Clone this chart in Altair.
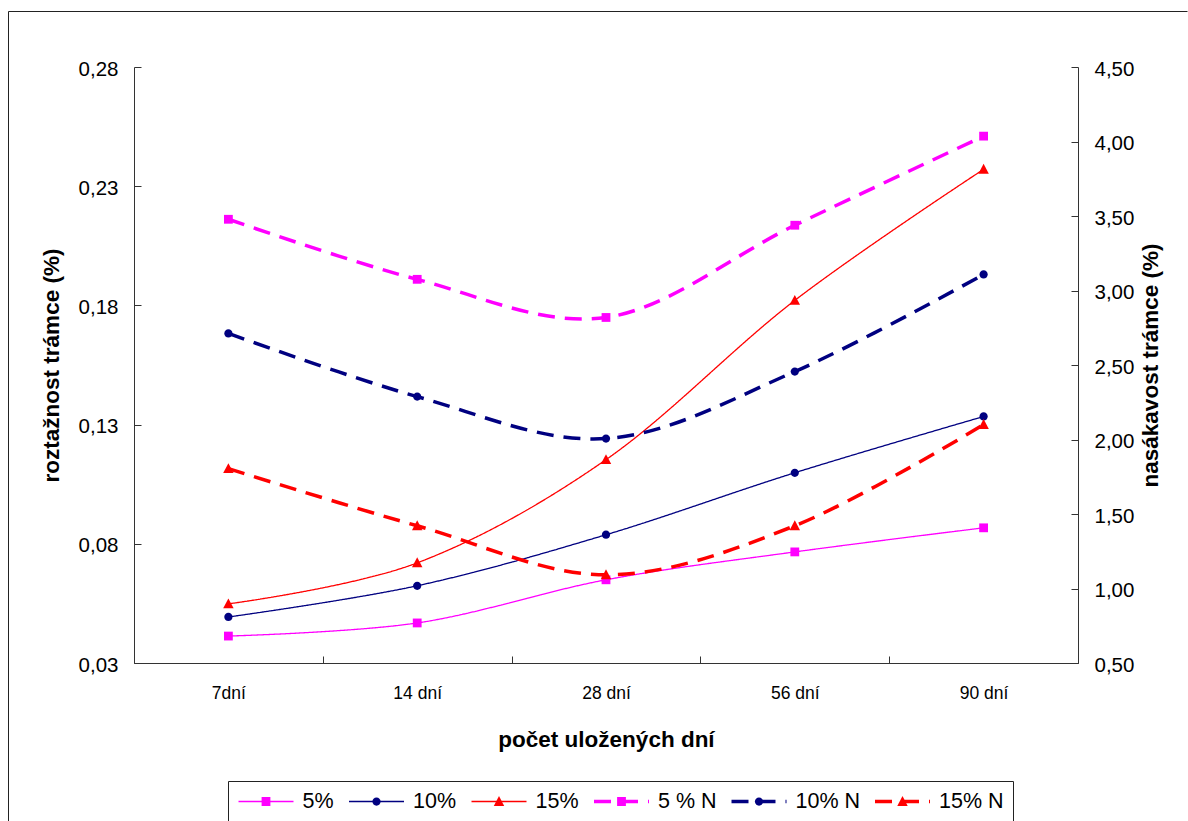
import altair as alt
import pandas as pd

# ---------------- data ----------------
days = ["7dní", "14 dní", "28 dní", "56 dní", "90 dní"]
solid_names = ["5%", "10%", "15%"]
dashed_names = ["5 % N", "10% N", "15% N"]

# left axis: roztažnost trámce (%)
roz_5 = [0.0413, 0.0468, 0.0649, 0.0766, 0.0867]
roz_10 = [0.0493, 0.0624, 0.0838, 0.1098, 0.1334]
roz_15 = [0.0548, 0.0720, 0.1153, 0.1821, 0.2371]

# right axis: nasákavost trámce (%)
nas_5 = [3.478, 3.075, 2.819, 3.438, 4.036]
nas_10 = [2.712, 2.288, 2.006, 2.456, 3.108]
nas_15 = [1.804, 1.421, 1.092, 1.421, 2.100]

left_ticks = [0.03, 0.08, 0.13, 0.18, 0.23, 0.28]
right_ticks = [0.5, 1.0, 1.5, 2.0, 2.5, 3.0, 3.5, 4.0, 4.5]

all_series = solid_names + dashed_names
marker_keys = ["m:" + s for s in all_series]


def frame(names, series_values, field):
    rows = []
    for name, vals in zip(names, series_values):
        for d, v in zip(days, vals):
            rows.append({"den": d, "series": name, "mk": "m:" + name, field: v})
    return pd.DataFrame(rows)


solid_df = frame(solid_names, [roz_5, roz_10, roz_15], "roz")
dashed_df = frame(dashed_names, [nas_5, nas_10, nas_15], "nas")
one = pd.DataFrame({"k": [0]})

# ---------------- styles ----------------
FONT = "Liberation Sans"
COL = ["#FF00FF", "#000080", "#FF0000"] * 2
DASH = [[1, 0]] * 3 + [[17, 10]] * 3
WID = [1.3] * 3 + [3.5] * 3
SQ = "M-0.16,-0.16L0.16,-0.16L0.16,0.16L-0.16,0.16Z"
CI = "M-0.15,0A0.15,0.15,0,1,0,0.15,0A0.15,0.15,0,1,0,-0.15,0Z"
TR = "M0,-0.2L0.19,0.16L-0.19,0.16Z"
SHP = [SQ, CI, TR] * 2
AXC = "#333333"

leg_common = dict(
    orient="none", legendX=94, legendY=714, direction="horizontal", columns=6,
    symbolSize=3025, labelFont=FONT, labelFontSize=21.5, labelOffset=7,
    columnPadding=12.5, padding=8.5, clipHeight=24,
)
legA = alt.Legend(symbolType="stroke", labelColor="black", strokeColor="#222222", **leg_common)
legB = alt.Legend(labelColor="transparent", symbolStrokeColor="transparent",
                  symbolStrokeWidth=3.5, labelExpr="substring(datum.label, 2)", **leg_common)

xenc = alt.X(
    "den:N", sort=days,
    scale=alt.Scale(type="band", paddingInner=0, paddingOuter=0),
    axis=alt.Axis(
        title="počet uložených dní", tickBand="extent", labelAngle=0,
        labelFontSize=17.5, labelPadding=28.5, tickSize={"expr": "-7"},
        titleFontSize=22.5, titleFontWeight="bold", titlePadding=26.5,
    ),
)

left_axis = alt.Axis(
    orient="left", values=left_ticks, title="roztažnost trámce (%)",
    labelExpr="replace(format(datum.value, '.2f'), '.', ',')",
    labelFontSize=20.5, labelPadding=23, tickSize={"expr": "-7"}, labelOffset=2,
    titleFontSize=22.5, titleFontWeight="bold", titlePadding=15, grid=False,
)
right_axis = alt.Axis(
    orient="right", values=right_ticks, title="nasákavost trámce (%)",
    labelExpr="replace(format(datum.value, '.2f'), '.', ',')",
    labelFontSize=20.5, labelPadding=23, tickSize={"expr": "-7"}, labelOffset=2,
    titleFontSize=22.5, titleFontWeight="bold", titlePadding=6,
    titleAngle=270, titleBaseline="top", grid=False,
)

yl = alt.Y("roz:Q", scale=alt.Scale(domain=[0.03, 0.28], nice=False, zero=False), axis=left_axis)
yr = alt.Y("nas:Q", scale=alt.Scale(domain=[0.5, 4.5], nice=False, zero=False), axis=right_axis)

line_enc = dict(
    color=alt.Color("series:N", title=None, scale=alt.Scale(domain=all_series, range=COL), legend=legA),
    strokeDash=alt.StrokeDash("series:N", title=None, scale=alt.Scale(domain=all_series, range=DASH), legend=legA),
    strokeWidth=alt.StrokeWidth("series:N", title=None,
                                scale=alt.Scale(type="ordinal", domain=all_series, range=WID), legend=legA),
)
pt_enc = dict(
    fill=alt.Fill("mk:N", title=None, scale=alt.Scale(domain=marker_keys, range=COL), legend=legB),
    shape=alt.Shape("mk:N", title=None, scale=alt.Scale(domain=marker_keys, range=SHP), legend=legB),
)

line_solid = alt.Chart(solid_df).mark_line(interpolate="cardinal").encode(x=xenc, y=yl, **line_enc)
pts_solid = alt.Chart(solid_df).mark_point(filled=True, size=3025, opacity=1).encode(x=xenc, y=yl, **pt_enc)
line_dash = alt.Chart(dashed_df).mark_line(interpolate="cardinal").encode(x=xenc, y=yr, **line_enc)
pts_dash = alt.Chart(dashed_df).mark_point(filled=True, size=3025, opacity=1).encode(x=xenc, y=yr, **pt_enc)

left_group = alt.layer(line_solid, pts_solid)
right_group = alt.layer(line_dash, pts_dash)

# outer chart-area frame (top and left edges; right/bottom lie outside the window)
top_rule = alt.Chart(one).mark_rule(color="#222222", strokeWidth=1).encode(
    x=alt.value(-125.5), x2=alt.value(1053.5), y=alt.value(-55.5))
left_rule = alt.Chart(one).mark_rule(color="#222222", strokeWidth=1).encode(
    x=alt.value(-125.5), y=alt.value(-55.5), y2=alt.value(754))

chart = (
    alt.layer(left_group, right_group, top_rule, left_rule)
    .resolve_scale(y="independent")
    .properties(width=944, height=596,
                padding={"left": 8, "top": 11, "right": 0, "bottom": 0},
                background="white")
    .configure(font=FONT)
    .configure_view(stroke="transparent")
    .configure_axis(labelFont=FONT, titleFont=FONT, labelColor="black", titleColor="black",
                    domainColor=AXC, tickColor=AXC, domainWidth=1, tickWidth=1)
)

chart.save("out.html", embed_options={"renderer": "svg", "actions": False})
